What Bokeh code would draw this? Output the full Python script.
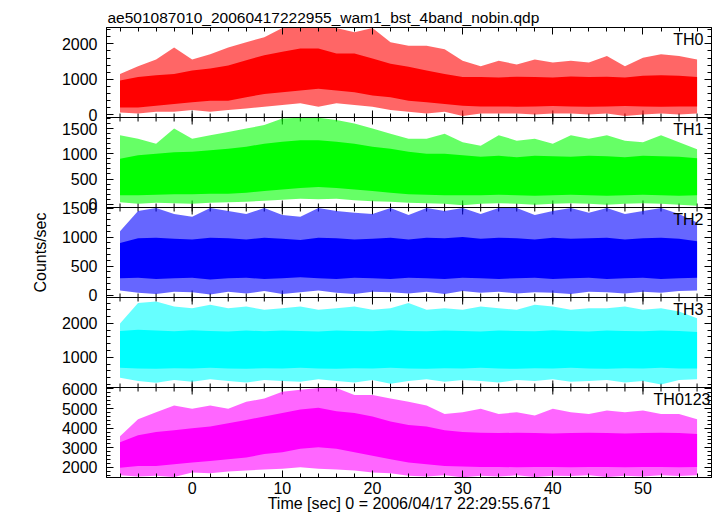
from math import pi
from bokeh.plotting import figure
from bokeh.models import (Range1d, FixedTicker, LinearAxis, Label, Span,
                          CustomJSTickFormatter)
from bokeh.embed import file_html
from bokeh.resources import INLINE

# ---------------- data ----------------
TITLE = "ae501087010_20060417222955_wam1_bst_4band_nobin.qdp"
X_LABEL = "Time [sec] 0 = 2006/04/17 22:29:55.671"
Y_LABEL = "Counts/sec"

time_sec = [-8, -6, -4, -2, 0, 2, 4, 6, 8, 10, 12, 14, 16, 18, 20, 22, 24,
            26, 28, 30, 32, 34, 36, 38, 40, 42, 44, 46, 48, 50, 52, 54, 56]

band_names = ["TH0", "TH1", "TH2", "TH3", "TH0123"]
band_colors = ["#ff0000", "#00ff00", "#0000ff", "#00ffff", "#ff00ff"]

# envelope of the light curves: spike extremes (outer) and dense core (inner)
th0_outer_hi = [1150, 1370, 1560, 1900, 1560, 1710, 1900, 2050, 2190, 2450, 2450, 2450, 2450, 2330, 2450, 2050, 1950,
                1950, 1850, 1520, 1370, 1520, 1420, 1560, 1470, 1520, 1470, 1660, 1370, 1610, 1710, 1660, 1560]
th0_inner_hi = [960, 1060, 1110, 1150, 1250, 1300, 1390, 1540, 1680, 1780, 1870, 1870, 1730, 1730, 1590, 1440, 1350,
                1250, 1150, 1060, 1060, 1050, 1070, 1060, 1050, 1080, 1060, 1070, 1050, 1100, 1110, 1100, 1060]
th0_inner_lo = [200, 200, 250, 300, 350, 390, 390, 490, 580, 630, 680, 730, 680, 630, 540, 490, 390,
                350, 300, 250, 230, 230, 220, 230, 240, 230, 220, 230, 240, 230, 220, 230, 230]
th0_outer_lo = [60, 30, 80, 80, 130, 80, 130, 170, 220, 270, 320, 220, 320, 270, 220, 130, 80,
                30, 80, -40, 30, 30, 30, 0, 30, 30, 0, 30, -40, 0, 30, 0, 30]

th1_outer_hi = [1370, 1300, 1200, 1500, 1300, 1370, 1430, 1500, 1570, 1700, 1715, 1715, 1670, 1600, 1500, 1400, 1300,
                1300, 1400, 1230, 1160, 1370, 1260, 1300, 1200, 1370, 1300, 1370, 1260, 1230, 1370, 1230, 1090]
th1_inner_hi = [900, 970, 1000, 1030, 1040, 1070, 1100, 1140, 1200, 1240, 1270, 1270, 1240, 1200, 1140, 1100, 1040,
                1000, 1000, 970, 940, 960, 930, 960, 950, 940, 960, 950, 930, 960, 950, 940, 910]
th1_inner_lo = [180, 180, 190, 200, 200, 210, 210, 230, 260, 290, 320, 340, 320, 290, 260, 230, 200,
                190, 180, 180, 180, 190, 180, 170, 180, 190, 180, 170, 180, 190, 180, 170, 180]
th1_outer_lo = [40, 10, 30, 20, 10, 30, 40, 50, 70, 90, 110, 100, 110, 80, 60, 50, 30,
                20, 10, -20, 10, 20, 10, -10, 10, 20, 10, -10, 10, 20, 10, -10, -30]

th2_outer_hi = [1100, 1450, 1500, 1400, 1350, 1500, 1450, 1400, 1500, 1380, 1350, 1500, 1450, 1420, 1400, 1500, 1380,
                1500, 1450, 1500, 1400, 1500, 1500, 1380, 1450, 1500, 1420, 1500, 1400, 1450, 1500, 1400, 1250]
th2_inner_hi = [900, 980, 990, 970, 960, 990, 980, 960, 990, 970, 950, 990, 980, 960, 970, 990, 960,
                990, 980, 1000, 970, 990, 980, 960, 990, 970, 980, 990, 960, 980, 990, 970, 930]
th2_inner_lo = [290, 300, 280, 290, 300, 270, 290, 300, 280, 290, 310, 290, 280, 300, 290, 280, 300,
                290, 280, 300, 290, 280, 290, 300, 280, 290, 300, 280, 290, 300, 280, 290, 300]
th2_outer_lo = [80, 40, 20, 60, 50, 10, 60, 30, 70, 20, 50, 80, 40, 20, 60, 50, 30,
                60, 20, 70, 40, 60, 30, 50, 40, 20, 60, 50, 30, 60, 40, 70, 80]

th3_outer_hi = [2000, 2600, 2650, 2500, 2450, 2550, 2450, 2500, 2400, 2450, 2500, 2400, 2450, 2500, 2400, 2450, 2600,
                2400, 2450, 2400, 2500, 2450, 2400, 2550, 2500, 2400, 2450, 2450, 2500, 2400, 2450, 2350, 2150]
th3_inner_hi = [1780, 1810, 1790, 1770, 1800, 1780, 1760, 1790, 1770, 1790, 1780, 1760, 1790, 1780, 1770, 1800, 1780,
                1770, 1790, 1780, 1760, 1790, 1780, 1770, 1800, 1780, 1760, 1790, 1780, 1770, 1790, 1780, 1750]
th3_inner_lo = [690, 670, 660, 680, 670, 690, 670, 660, 680, 670, 690, 670, 660, 680, 670, 690, 670,
                660, 680, 670, 690, 670, 660, 680, 670, 690, 670, 660, 680, 670, 690, 670, 670]
th3_outer_lo = [400, 300, 250, 330, 280, 350, 300, 260, 330, 300, 280, 350, 300, 260, 330, 220, 300,
                350, 280, 330, 300, 260, 330, 300, 350, 280, 300, 330, 260, 300, 200, 330, 350]

th0123_outer_hi = [3590, 4460, 4810, 5160, 4990, 5160, 4990, 5340, 5510, 5860, 5950, 6040, 6040, 5690, 5690, 5510, 5340,
                   5160, 4720, 4810, 4990, 4720, 4810, 4640, 4990, 4810, 4720, 4900, 4810, 4900, 4720, 4720, 4460]
th0123_inner_hi = [3290, 3640, 3810, 3900, 3990, 4080, 4250, 4420, 4600, 4770, 4950, 5040, 4860, 4770, 4600, 4340, 4160,
                   4080, 3900, 3810, 3770, 3750, 3770, 3750, 3730, 3750, 3770, 3750, 3730, 3750, 3770, 3750, 3700]
th0123_inner_lo = [1980, 2070, 2070, 2160, 2250, 2330, 2420, 2510, 2680, 2770, 2950, 3030, 2950, 2770, 2600, 2420, 2250,
                   2160, 2070, 2050, 2020, 2030, 2010, 2020, 2030, 2010, 2020, 2030, 2010, 2020, 2030, 2010, 2020]
th0123_outer_lo = [1600, 1540, 1580, 1520, 1750, 1700, 1800, 1840, 1900, 1930, 2010, 1930, 1900, 1840, 1750, 1700, 1580,
                   1540, 1600, 1500, 1580, 1540, 1600, 1520, 1580, 1560, 1600, 1520, 1580, 1540, 1600, 1560, 1600]

outer_hi = [th0_outer_hi, th1_outer_hi, th2_outer_hi, th3_outer_hi, th0123_outer_hi]
inner_hi = [th0_inner_hi, th1_inner_hi, th2_inner_hi, th3_inner_hi, th0123_inner_hi]
inner_lo = [th0_inner_lo, th1_inner_lo, th2_inner_lo, th3_inner_lo, th0123_inner_lo]
outer_lo = [th0_outer_lo, th1_outer_lo, th2_outer_lo, th3_outer_lo, th0123_outer_lo]

# axes
x_limits = (-9.5, 57.6)
x_major_ticks = [0, 10, 20, 30, 40, 50]
x_minor_ticks = list(range(-8, 57, 2))
y_limits = [(-85, 2465), (-65, 1720), (-40, 1510), (110, 2765), (1490, 6070)]
y_major_ticks = [[0, 1000, 2000], [0, 500, 1000, 1500], [0, 500, 1000, 1500],
                 [1000, 2000], [2000, 3000, 4000, 5000, 6000]]
y_minor_ticks = [list(range(0, 2401, 200)), list(range(0, 1701, 100)), list(range(0, 1501, 100)),
                 list(range(200, 2701, 200)), list(range(1600, 6001, 200))]

# ---------------- layout / style ----------------
FONT = "Liberation Sans"
FS = "16px"
LEFT, RIGHT, TOP, BOTTOM = 106, 4, 27, 39
FRAME_W, PANEL_H = 605, 90
NP = len(band_names)
label_inset = [8, 8, 8, 8, 1]

# every panel i (0 = top) occupies the slot [NP-1-i, NP-i] of a shared unit axis
slot_lo = [NP - 1 - i for i in range(NP)]


def to_slot(i, v):
    lo, hi = y_limits[i]
    return slot_lo[i] + (v - lo) / (hi - lo)


p = figure(width=LEFT + FRAME_W + RIGHT, height=TOP + NP * PANEL_H + BOTTOM,
           x_range=Range1d(*x_limits), y_range=Range1d(0, NP),
           output_backend="svg", toolbar_location=None,
           x_axis_location=None, y_axis_location=None,
           min_border_left=LEFT, min_border_right=RIGHT,
           min_border_top=TOP, min_border_bottom=BOTTOM)
p.outline_line_color = "black"
p.outline_line_width = 1
p.background_fill_color = "white"
p.border_fill_color = "white"
p.grid.visible = False

p.title.text = TITLE
p.title.align = "left"
p.title.offset = 1
p.title.standoff = 3
p.title.text_font = FONT
p.title.text_font_size = "15.5px"
p.title.text_font_style = "normal"
p.title.text_color = "black"

# one extra y range per panel, stretched so that its limits land on the panel's slot
for i in range(NP):
    lo, hi = y_limits[i]
    span = hi - lo
    k = slot_lo[i]
    p.extra_y_ranges[band_names[i]] = Range1d(lo - k * span, hi + (NP - 1 - k) * span)

# y ticks of all panels on the shared unit axis
y_major_pos = [to_slot(i, v) for i in range(NP) for v in y_major_ticks[i]]
y_minor_pos = [to_slot(i, v) for i in range(NP) for v in y_minor_ticks[i]]
yticker = FixedTicker(ticks=y_major_pos, minor_ticks=y_minor_pos)
yformatter = CustomJSTickFormatter(
    args=dict(lows=[y_limits[NP - 1 - k][0] for k in range(NP)],
              highs=[y_limits[NP - 1 - k][1] for k in range(NP)]),
    code="""
const k = Math.floor(tick);
const v = lows[k] + (tick - k) * (highs[k] - lows[k]);
return String(Math.round(v / 100) * 100);
""")
xticker = FixedTicker(ticks=x_major_ticks, minor_ticks=x_minor_ticks)


def make_axis(ticker, labels, formatter=None):
    ax = LinearAxis(ticker=ticker)
    if formatter is not None:
        ax.formatter = formatter
    ax.axis_line_color = "black"
    ax.major_tick_line_color = "black"
    ax.minor_tick_line_color = "black"
    ax.major_tick_in = 7
    ax.major_tick_out = 0
    ax.minor_tick_in = 4
    ax.minor_tick_out = 0
    if labels:
        ax.major_label_text_font = FONT
        ax.major_label_text_font_size = FS
        ax.major_label_text_color = "black"
    else:
        ax.major_label_text_color = None
        ax.major_label_text_alpha = 0
        ax.major_label_text_font_size = "0px"
        ax.major_label_standoff = 0
    return ax


left = make_axis(yticker, True, yformatter)
left.major_label_standoff = 9
left.axis_label = Y_LABEL
left.axis_label_standoff = 10
left.axis_label_text_font = FONT
left.axis_label_text_font_size = FS
left.axis_label_text_font_style = "normal"
left.axis_label_text_color = "black"
p.add_layout(left, "left")
p.add_layout(make_axis(yticker, False), "right")
p.add_layout(make_axis(xticker, False), "above")
bottom = make_axis(xticker, True)
bottom.major_label_standoff = 4
bottom.axis_label = X_LABEL
bottom.axis_label_standoff = -2
bottom.axis_label_text_font = FONT
bottom.axis_label_text_font_size = FS
bottom.axis_label_text_font_style = "normal"
bottom.axis_label_text_color = "black"
p.add_layout(bottom, "below")

# panel separators and the x ticks on both sides of each separator
maj_len = 7 / PANEL_H
min_len = 4 / PANEL_H
for b in range(1, NP):
    p.add_layout(Span(location=b, dimension="width", line_color="black", line_width=1))
    p.segment(x0=x_major_ticks, x1=x_major_ticks, y0=[b - maj_len] * len(x_major_ticks),
              y1=[b + maj_len] * len(x_major_ticks), line_color="black", line_width=1)
    p.segment(x0=x_minor_ticks, x1=x_minor_ticks, y0=[b - min_len] * len(x_minor_ticks),
              y1=[b + min_len] * len(x_minor_ticks), line_color="black", line_width=1)

# light curves
for i in range(NP):
    col = band_colors[i]
    name = band_names[i]
    p.varea(x=time_sec, y1=outer_lo[i], y2=outer_hi[i], fill_color=col, fill_alpha=0.6,
            y_range_name=name)
    p.varea(x=time_sec, y1=inner_lo[i], y2=inner_hi[i], fill_color=col, fill_alpha=1.0,
            y_range_name=name)
    p.add_layout(Label(x=FRAME_W - label_inset[i], y=(NP - i) * PANEL_H - 3,
                       x_units="screen", y_units="screen",
                       text=name, text_align="right", text_baseline="top",
                       text_font=FONT, text_font_size=FS, text_color="black"))

open("out.html", "w").write(file_html(p, INLINE))
